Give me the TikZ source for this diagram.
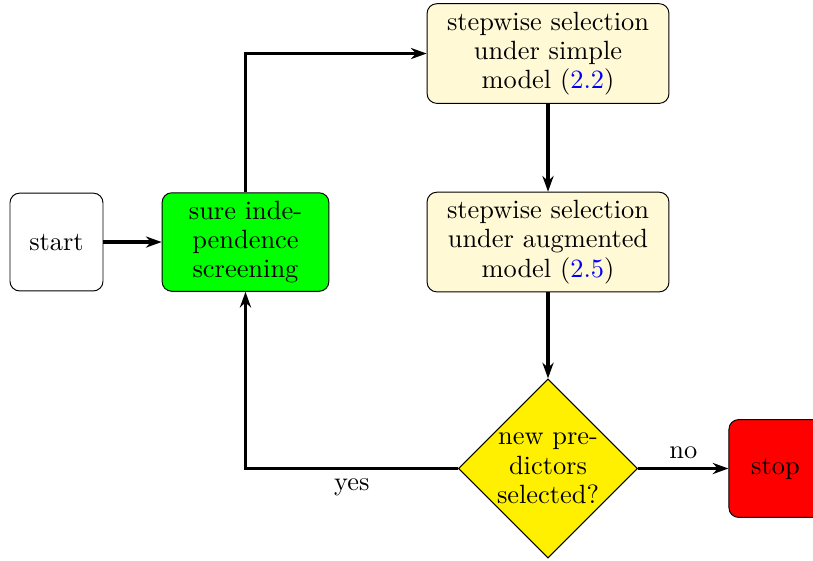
\documentclass[tikz,border=0pt]{standalone}
\usetikzlibrary{shapes.geometric,arrows.meta}
\definecolor{paleyellow}{RGB}{255,249,214}
\definecolor{decyellow}{RGB}{255,240,0}
\begin{document}
\begin{tikzpicture}[font=\fontsize{10.9}{12.1}\selectfont,
  box/.style={draw, rounded corners, minimum height=1.42cm, align=center},
  flow/.style={line width=1.4pt, -{Stealth[length=6.5pt,width=4.6pt]}}]
\useasboundingbox (0,0) rectangle (11.8,8.128);
\node (start) at (0.82,4.615) [box, minimum width=1.35cm] {start};
\node (sis) at (3.563,4.615) [box, fill=green, minimum width=2.42cm] {sure inde-\\pendence\\screening};
\node (simple) at (7.954,7.351) [box, fill=paleyellow, minimum width=3.51cm] {stepwise selection\\under simple\\model (\textcolor{blue}{2.2})};
\node (augm) at (7.954,4.615) [box, fill=paleyellow, minimum width=3.51cm] {stepwise selection\\under augmented\\model (\textcolor{blue}{2.5})};
\node (dec) at (7.954,1.328) [draw, diamond, fill=decyellow, minimum width=2.6cm, minimum height=2.6cm, inner sep=0pt, align=center] {new pre-\\dictors\\selected?};
\node (stop) at (11.255,1.328) [box, fill=red, minimum width=1.35cm] {stop};

\draw [flow] (start) -- (sis);
\draw [flow] (sis.north) |- (simple.west);
\draw [flow] (simple) -- (augm);
\draw [flow] (augm) -- (dec);
\draw [flow] (dec.west) -| node [pos=0.25, below] {yes} (sis.south);
\draw [flow] (dec.east) -- node [above] {no} (stop.west);
\end{tikzpicture}
\end{document}
